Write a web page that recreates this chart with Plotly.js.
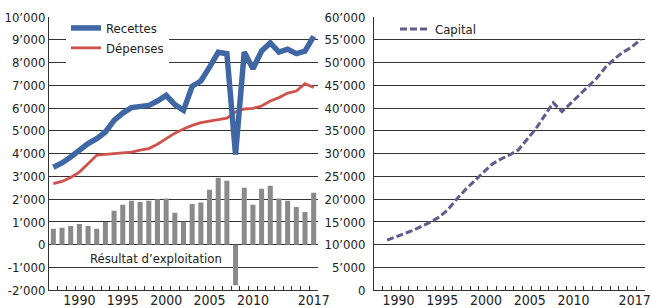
<!DOCTYPE html>
<html>
<head>
<meta charset="utf-8">
<script src="https://cdn.plot.ly/plotly-3.0.1.min.js"></script>
<style>
html,body{margin:0;padding:0;background:#fff;}
#chart{width:652px;height:308px;}
</style>
</head>
<body>
<div id="chart"></div>
<script>
const years = ['1987','1988','1989','1990','1991','1992','1993','1994','1995','1996','1997','1998','1999','2000','2001','2002','2003','2004','2005','2006','2007','2008','2009','2010','2011','2012','2013','2014','2015','2016','2017'];
const labelledYears = ['1990','1995','2000','2005','2010','2017'];

const recettes = [3400,3590,3850,4150,4440,4660,4950,5460,5780,6020,6050,6120,6310,6560,6150,5900,6960,7190,7800,8450,8390,3960,8460,7730,8510,8860,8460,8590,8390,8500,9150];
const depenses = [2680,2780,2950,3190,3560,3930,3970,4000,4030,4070,4150,4220,4410,4640,4900,5080,5240,5360,5430,5490,5560,5830,5960,5990,6090,6310,6460,6660,6750,7070,6900];
const resultat = [700,750,820,910,820,700,1000,1490,1750,1930,1880,1930,2000,2030,1400,1010,1790,1850,2410,2940,2810,-1780,2500,1750,2460,2590,2030,1930,1660,1440,2280];

const capitalYears = ['1988','1989','1990','1991','1992','1993','1994','1995','1996','1997','1998','1999','2000','2001','2002','2003','2004','2005','2006','2007','2008','2009','2010','2011','2012','2013','2014','2015','2016','2017'];
const capital = [11000,11700,12400,13200,14100,15000,16100,17800,20100,22200,24000,25900,27700,28800,29700,30800,33000,35400,38300,41200,39200,41000,43000,44600,46600,49000,50800,52300,53400,55100];

const leftTickVals = [-2000,-1000,0,1000,2000,3000,4000,5000,6000,7000,8000,9000,10000];
const leftTickText = ['-2’000','-1’000','0','1’000','2’000','3’000','4’000','5’000','6’000','7’000','8’000','9’000','10’000'];
const rightTickVals = [0,5000,10000,15000,20000,25000,30000,35000,40000,45000,50000,55000,60000];
const rightTickText = ['0','5’000','10’000','15’000','20’000','25’000','30’000','35’000','40’000','45’000','50’000','55’000','60’000'];

const FONT = '"DejaVu Sans Condensed", "DejaVu Sans", sans-serif';
const XFONT = '"Liberation Sans Narrow", "DejaVu Sans Condensed", sans-serif';
const INK = '#222';
const GRID = '#333';

const xTickText = years.map(y => labelledYears.includes(y) ? y : '');

const traces = [
  {type:'bar', x:years, y:resultat, xaxis:'x', yaxis:'y', marker:{color:'#8a8a8a'}, showlegend:false, hoverinfo:'skip'},
  {type:'scatter', mode:'lines', name:'Dépenses', x:years, y:depenses, xaxis:'x', yaxis:'y',
   line:{color:'#cf524c', width:2.8}, legend:'legend', legendrank:2},
  {type:'scatter', mode:'lines', name:'Recettes', x:years, y:recettes, xaxis:'x', yaxis:'y',
   line:{color:'#3f67a3', width:5.5}, legend:'legend', legendrank:1},
  {type:'scatter', mode:'lines', name:'Capital', x:capitalYears, y:capital, xaxis:'x2', yaxis:'y2',
   line:{color:'#615b8e', width:3, dash:'7px,3px'}, legend:'legend2'}
];

const xCommon = {
  type:'category', categoryorder:'array', categoryarray:years, range:[-0.5, 30.5],
  tickmode:'array', tickvals:years, ticktext:xTickText, tickson:'boundaries',
  ticks:'inside', ticklen:4, tickwidth:1, tickcolor:GRID, tickangle:0,
  showline:true, linecolor:GRID, linewidth:1, showgrid:false, zeroline:false,
  ticklabelstandoff:-3,
  tickfont:{family:XFONT, size:14, color:INK}, fixedrange:true
};

const layout = {
  width:652, height:308,
  margin:{l:0, r:0, t:0, b:0, pad:0},
  paper_bgcolor:'#ffffff', plot_bgcolor:'#ffffff',
  bargap:0.42,
  showlegend:true,
  font:{family:FONT, size:13, color:INK},
  xaxis:Object.assign({}, xCommon, {domain:[49/652, 318/652], anchor:'y'}),
  xaxis2:Object.assign({}, xCommon, {domain:[374/652, 645/652], anchor:'y2', ticklabelshift:-6}),
  yaxis:{
    domain:[0.0576, 0.9448], anchor:'x', range:[-2000, 10000],
    tickmode:'array', tickvals:leftTickVals, ticktext:leftTickText,
    showgrid:true, gridcolor:GRID, gridwidth:1, zeroline:false,
    showline:true, linecolor:GRID, linewidth:1, ticks:'',
    tickfont:{family:FONT, size:13, color:INK}, fixedrange:true
  },
  yaxis2:{
    domain:[0.0576, 0.9448], anchor:'x2', range:[0, 60000],
    tickmode:'array', tickvals:rightTickVals, ticktext:rightTickText,
    showgrid:true, gridcolor:GRID, gridwidth:1, zeroline:false,
    showline:true, linecolor:GRID, linewidth:1, ticks:'',
    ticklabelstandoff:5,
    tickfont:{family:FONT, size:13, color:INK}, fixedrange:true
  },
  legend:{
    x:66/652, y:1-13/308, xanchor:'left', yanchor:'top',
    bgcolor:'#ffffff', borderwidth:0, traceorder:'normal',
    font:{family:FONT, size:13, color:INK}, itemwidth:30, tracegroupgap:0
  },
  legend2:{
    x:395/652, y:1-14/308, xanchor:'left', yanchor:'top',
    bgcolor:'rgba(255,255,255,0)', borderwidth:0,
    font:{family:FONT, size:13, color:INK}, itemwidth:30
  },
  annotations:[
    {text:'Résultat d’exploitation', xref:'paper', yref:'paper', x:156/652, y:1-258.3/308,
     xanchor:'center', yanchor:'middle', showarrow:false, font:{family:FONT, size:13, color:INK}}
  ]
};

Plotly.newPlot('chart', traces, layout, {staticPlot:true, displayModeBar:false});
</script>
</body>
</html>
